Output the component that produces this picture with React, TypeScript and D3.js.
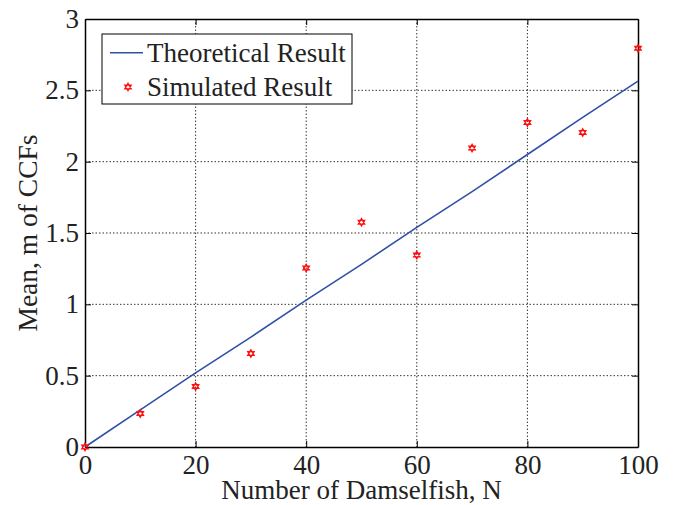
import { useEffect, useRef } from "react";
import * as d3 from "d3";

const xTicks = [0, 20, 40, 60, 80, 100];
const yTicks = [0, 0.5, 1, 1.5, 2, 2.5, 3];
const yTickLabels = ["0", "0.5", "1", "1.5", "2", "2.5", "3"];

const theoryN = [0, 10, 20, 30, 40, 50, 60, 70, 80, 90, 100];
const theoryMean = [0, 0.26, 0.52, 0.77, 1.03, 1.28, 1.54, 1.79, 2.05, 2.31, 2.565];

const simN = [0, 10, 20, 30, 40, 50, 60, 70, 80, 90, 100];
const simMean = [0, 0.234, 0.424, 0.655, 1.255, 1.575, 1.345, 2.095, 2.275, 2.205, 2.795];

const legendLabels = ["Theoretical Result", "Simulated Result"];

const W = 674;
const H = 505;
const font = '"Liberation Serif", "Times New Roman", Times, "DejaVu Serif", serif';

const hexagram = (cx: number, cy: number, r: number) => {
  const tri = (rot: number) =>
    d3.range(3).map((i) => {
      const a = rot + (i * 2 * Math.PI) / 3;
      return [cx + r * Math.sin(a), cy - r * Math.cos(a)];
    });
  const p = (pts: number[][]) => "M" + pts.map((q) => q.join(",")).join("L") + "Z";
  return p(tri(0)) + p(tri(Math.PI));
};

const App = () => {
  const svgRef = useRef<SVGSVGElement>(null);

  useEffect(() => {
    const margin = { top: 19, right: 36, bottom: 58, left: 85 };
    const width = W - margin.left - margin.right;
    const height = H - margin.top - margin.bottom;

    const svg = d3.select(svgRef.current).style("font-family", font);
    svg.selectAll("*").remove();

    const g = svg.append("g").attr("transform", `translate(${margin.left},${margin.top})`);

    const x = d3.scaleLinear().domain([0, 100]).range([0, width]);
    const y = d3.scaleLinear().domain([0, 3]).range([height, 0]);

    // grid
    g.append("g")
      .selectAll("line")
      .data(xTicks.slice(1, -1))
      .enter()
      .append("line")
      .attr("x1", (d) => x(d))
      .attr("x2", (d) => x(d))
      .attr("y1", 0)
      .attr("y2", height)
      .attr("stroke", "#000")
      .attr("stroke-width", 0.8)
      .attr("stroke-dasharray", "1.5,2");
    g.append("g")
      .selectAll("line")
      .data(yTicks.slice(1, -1))
      .enter()
      .append("line")
      .attr("x1", 0)
      .attr("x2", width)
      .attr("y1", (d) => y(d))
      .attr("y2", (d) => y(d))
      .attr("stroke", "#000")
      .attr("stroke-width", 0.8)
      .attr("stroke-dasharray", "1.5,2");

    // axes
    const xAxis = g
      .append("g")
      .attr("transform", `translate(0,${height})`)
      .call(d3.axisBottom(x).tickValues(xTicks).tickSizeInner(-6).tickSizeOuter(0));
    const yAxis = g
      .append("g")
      .call(
        d3
          .axisLeft(y)
          .tickValues(yTicks)
          .tickFormat((d, i) => yTickLabels[i])
          .tickSizeInner(-6)
          .tickSizeOuter(0)
          .tickPadding(6)
      );
    g.append("g")
      .call(d3.axisTop(x).tickValues(xTicks).tickSizeInner(-6).tickSizeOuter(0).tickFormat(() => ""));
    g.append("g")
      .attr("transform", `translate(${width},0)`)
      .call(d3.axisRight(y).tickValues(yTicks).tickSizeInner(-6).tickSizeOuter(0).tickFormat(() => ""));

    g.selectAll("g").attr("font-family", null);
    g.selectAll(".domain").attr("stroke", "#000").attr("stroke-width", 1.5);
    g.selectAll(".tick line").attr("stroke", "#000").attr("stroke-width", 1);
    [xAxis, yAxis].forEach((a) => {
      a.attr("font-family", null);
      a.selectAll("text").style("font-family", font).attr("font-size", 27).attr("fill", "#222");
    });
    xAxis.selectAll("text").attr("y", 26.5).attr("dy", 0);

    // theoretical line
    const line = d3
      .line<number>()
      .x((d, i) => x(theoryN[i]))
      .y((d) => y(d));
    g.append("path")
      .datum(theoryMean)
      .attr("fill", "none")
      .attr("stroke", "#3050a8")
      .attr("stroke-width", 1.6)
      .attr("d", line);

    // simulated points
    g.selectAll(".sim")
      .data(simMean)
      .enter()
      .append("path")
      .attr("class", "sim")
      .attr("d", (d, i) => hexagram(x(simN[i]), y(d), 3.7))
      .attr("fill", "none")
      .attr("stroke", "#ff1010")
      .attr("stroke-width", 1.3);

    // legend
    const lg = svg.append("g").attr("transform", "translate(102,34)");
    lg.append("rect")
      .attr("width", 250)
      .attr("height", 70)
      .attr("fill", "#fff")
      .attr("stroke", "#000")
      .attr("stroke-width", 1);
    lg.append("line")
      .attr("x1", 8)
      .attr("x2", 41)
      .attr("y1", 18.7)
      .attr("y2", 18.7)
      .attr("stroke", "#3050a8")
      .attr("stroke-width", 1.6);
    lg.append("path")
      .attr("d", hexagram(26, 53, 3.7))
      .attr("fill", "none")
      .attr("stroke", "#ff1010")
      .attr("stroke-width", 1.3);
    lg.selectAll("text")
      .data(legendLabels)
      .enter()
      .append("text")
      .attr("x", 45)
      .attr("y", (d, i) => 18.7 + i * 34.6)
      .attr("dy", "0.33em")
      .style("font-family", font)
      .attr("font-size", 27)
      .attr("fill", "#222")
      .text((d) => d);

    // axis labels
    svg
      .append("text")
      .attr("x", margin.left + width / 2)
      .attr("y", 499)
      .attr("text-anchor", "middle")
      .style("font-family", font)
      .attr("font-size", 27)
      .attr("fill", "#222")
      .text("Number of Damselfish, N");
    svg
      .append("text")
      .attr("transform", `translate(37,${margin.top + height / 2}) rotate(-90)`)
      .attr("text-anchor", "middle")
      .style("font-family", font)
      .attr("font-size", 27.5)
      .attr("fill", "#222")
      .text("Mean, m of CCFs");
  }, []);

  return (
    <svg
      ref={svgRef}
      width={W}
      height={H}
      style={{ position: "absolute", top: 0, left: 0, background: "#fff", display: "block" }}
    ></svg>
  );
};

export default App;
